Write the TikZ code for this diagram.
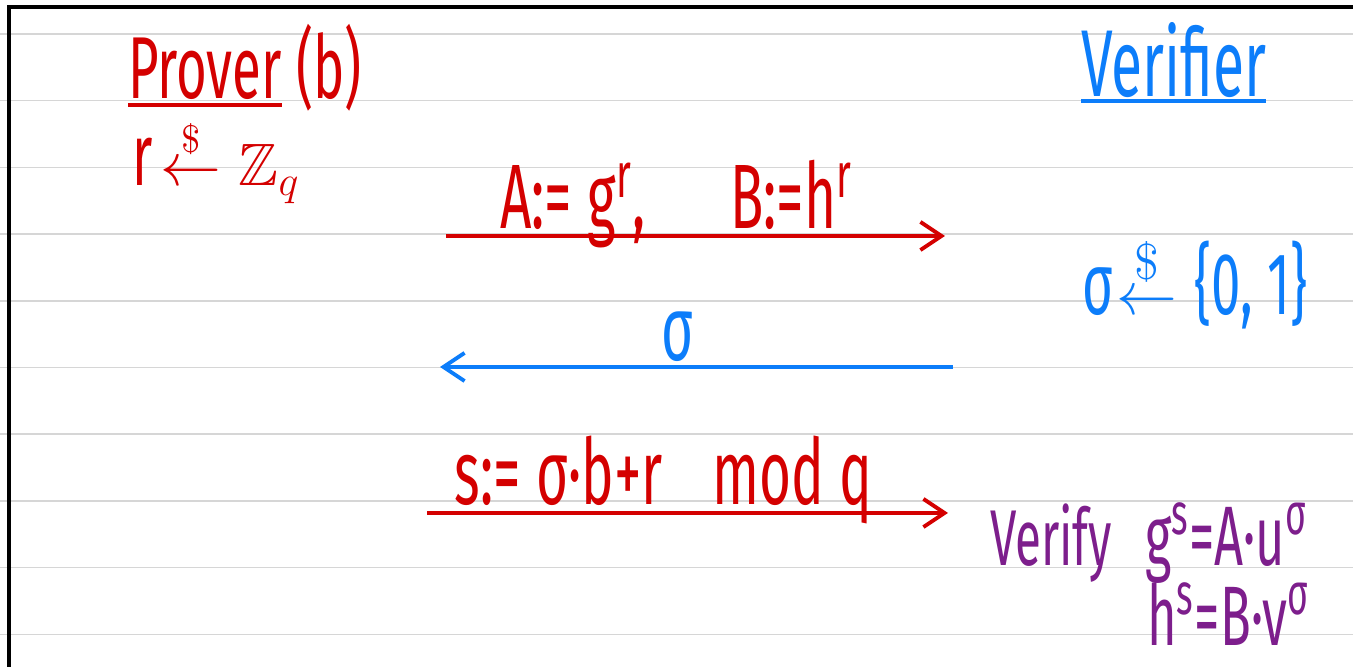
\documentclass[tikz,border=0pt]{standalone}
\usepackage{amsmath,amssymb}
\usepackage{fontspec}
\setmainfont{Fira Sans}[FakeStretch=0.6]
\usetikzlibrary{arrows.meta}
\definecolor{ink}{RGB}{212,0,0}
\definecolor{vblue}{RGB}{12,125,250}
\definecolor{vpurple}{RGB}{125,30,140}
\definecolor{rulegray}{RGB}{214,214,214}
\tikzset{
  ruleline/.style={draw=rulegray, line width=0.45pt},
  border/.style={draw=black, line width=1pt},
  txt/.style={inner sep=0pt, outer sep=0pt},
  fs/.style={font=\fontsize{#1}{#1}\selectfont},
  msg/.style={line width=1.1pt, -{Straight Barb[length=6pt,width=8pt,line width=1.1pt]}},
  uline/.style={line width=1.2pt}
}
\begin{document}
\begin{tikzpicture}[x=0.01cm,y=-0.01cm]
\useasboundingbox (0,0) rectangle (1353,667);
% ruled paper
\foreach \i in {0,...,9} \draw[ruleline] (0,{34+66.7*\i}) -- (1353,{34+66.7*\i});
\draw[border] (9,667) -- (9,7) -- (1353,7);

% Prover side
\node[txt, fs=25, text=ink, anchor=base west] (prover) at (128,99) {Prover};
\node[txt, fs=25, text=ink, anchor=base west] (pb) at (296,99) {(b)};
\draw[uline, ink] ([yshift=-1.8pt]prover.base west) -- ([yshift=-1.8pt]prover.base east);
\node[txt, fs=25, text=ink, anchor=base west] (rsamp) at (133,186)
  {r\hspace{2pt}{\fontsize{16}{18}\selectfont$\overset{\$}{\leftarrow}$\hspace{5pt}\fontsize{17}{18}\selectfont$\mathbb{Z}_q$}};

% Verifier side
\node[txt, fs=27, text=vblue, anchor=base west] (verifier) at (1081,97) {Verifier};
\draw[uline, vblue] ([yshift=-1.2pt]verifier.base west) -- ([yshift=-1.2pt]verifier.base east);
\node[txt, fs=25, text=vblue, anchor=base west] (csamp) at (1082,315)
  {σ\hspace{1pt}{\fontsize{19}{20}\selectfont$\overset{\$}{\leftarrow}$}\hspace{5pt}\{0,\,1\}};

% messages
\coordinate (m1s) at (446,236);
\coordinate (m1e) at (945,236);
\draw[msg, ink] (m1s) -- (m1e);
\node[txt, fs=26, text=ink, anchor=base west] (l1) at (500,229) {A:=\,g\textsuperscript{r},\hspace{24pt}B:=h\textsuperscript{r}};

\coordinate (m2s) at (953,367);
\coordinate (m2e) at (440,367);
\draw[msg, vblue] (m2s) -- (m2e);
\node[txt, fs=26, text=vblue, anchor=base] (l2) at (678,361) {σ};

\coordinate (m3s) at (427,513);
\coordinate (m3e) at (948,513);
\draw[msg, ink] (m3s) -- (m3e);
\node[txt, fs=26, text=ink, anchor=base west] (l3) at (455,505) {s:=\,σ·b+r\hspace{14pt}mod\,q};

% verification
\node[txt, fs=22.5, text=vpurple, anchor=base west] (verify) at (990,566) {Verify};
\node[txt, fs=24, text=vpurple, anchor=base west] (eq1) at (1145,566) {g\textsuperscript{s}=A·u\textsuperscript{σ}};
\node[txt, fs=24, text=vpurple, anchor=base west] (eq2) at (1147,646) {h\textsuperscript{s}=B·v\textsuperscript{σ}};
\end{tikzpicture}
\end{document}
